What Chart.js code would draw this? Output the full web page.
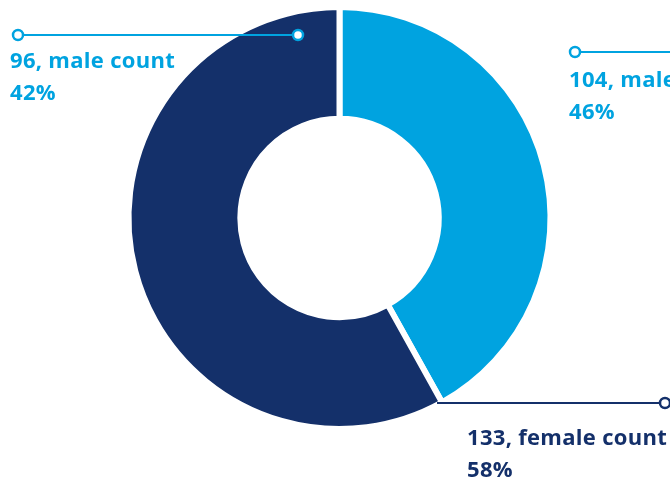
<!DOCTYPE html>
<html>
<head>
<meta charset="utf-8">
<script src="https://cdn.jsdelivr.net/npm/chart.js@4"></script>
<style>
  html, body { margin: 0; padding: 0; background: #fff; overflow: hidden; }
  #genderChart { display: block; }
</style>
</head>
<body>
<canvas id="genderChart" width="670" height="479"></canvas>
<script>
// Chart data
const categories = ['male count', 'female count'];
const counts = [96, 133];
const percents = [42, 58];
const colors = ['#00a3e0', '#14306a'];

// stray callout left over on the right side of the picture
const extraCount = 104;
const extraCategory = 'male count';
const extraPercent = 46;

// Callout lines + labels
const callouts = {
    id: 'callouts',
    afterDraw(chart) {
        const c = chart.ctx;
        const items = [
            { line: [18, 298, 35], text: [10, 68], color: colors[0], dots: [18, 298],
              label: counts[0] + ', ' + categories[0], pct: percents[0] + '%' },
            { line: [575, 680, 52], text: [569, 87], color: colors[0], dots: [575],
              label: extraCount + ', ' + extraCategory, pct: extraPercent + '%' },
            { line: [437, 665, 403], text: [467, 445], color: colors[1], dots: [665],
              label: counts[1] + ', ' + categories[1], pct: percents[1] + '%' }
        ];
        c.save();
        items.forEach(it => {
            c.strokeStyle = it.color;
            c.lineWidth = 2;
            c.beginPath();
            c.moveTo(it.line[0], it.line[2]);
            c.lineTo(it.line[1], it.line[2]);
            c.stroke();
            it.dots.forEach(x => {
                c.beginPath();
                c.arc(x, it.line[2], 5, 0, Math.PI * 2);
                c.fillStyle = '#fff';
                c.fill();
                c.lineWidth = 2.5;
                c.stroke();
            });
            c.fillStyle = it.color;
            c.font = 'bold 22px "Open Sans"';
            c.letterSpacing = '0.3px';
            c.textBaseline = 'alphabetic';
            c.textAlign = 'left';
            c.fillText(it.label, it.text[0], it.text[1]);
            c.fillText(it.pct, it.text[0], it.text[1] + 32);
        });
        c.restore();
    }
};

const ctx = document.getElementById('genderChart').getContext('2d');
const genderChart = new Chart(ctx, {
    type: 'doughnut',
    data: {
        labels: categories,
        datasets: [{
            data: counts,
            backgroundColor: colors,
            borderColor: '#ffffff',
            borderWidth: 6
        }]
    },
    options: {
        responsive: false,
        animation: false,
        cutout: '47%',
        layout: { padding: { left: 9, right: 0, top: 4, bottom: 47 } },
        plugins: {
            legend: { display: false },
            tooltip: { enabled: false }
        }
    },
    plugins: [callouts]
});
</script>
</body>
</html>
